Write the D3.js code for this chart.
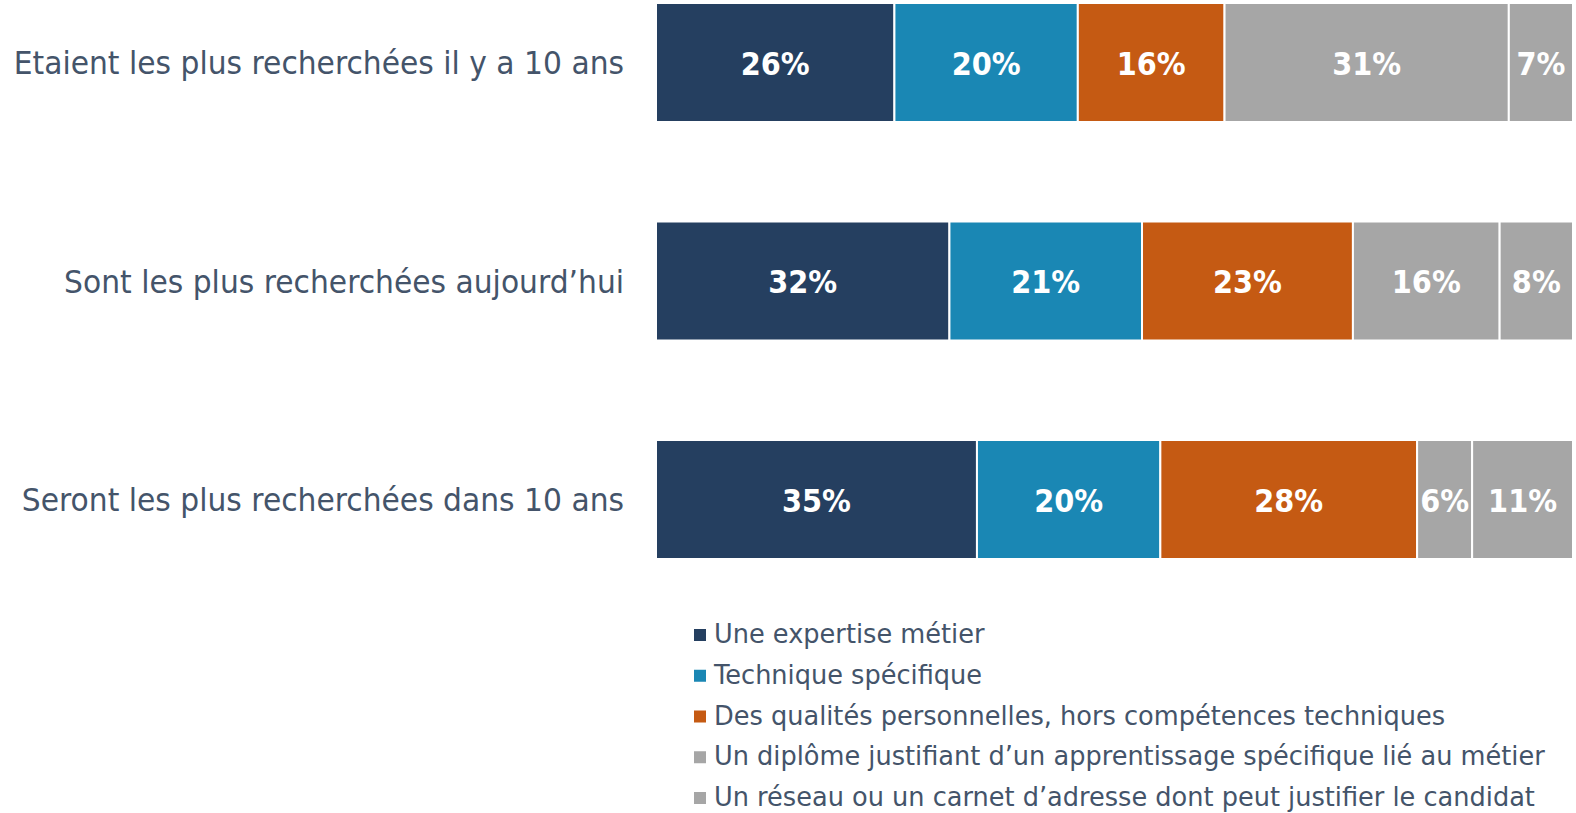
<!DOCTYPE html>
<html><head><meta charset="utf-8">
<script src="https://cdn.jsdelivr.net/npm/d3@7/dist/d3.min.js"></script>
<style>body{margin:0;background:#fff;overflow:hidden}svg{display:block}</style>
</head><body><svg id="c" width="1576" height="813"></svg>
<script>
const categories = ["Etaient les plus recherchées il y a 10 ans", "Sont les plus recherchées aujourd\u2019hui", "Seront les plus recherchées dans 10 ans"];
const seriesNames = ["Une expertise métier", "Technique spécifique", "Des qualités personnelles, hors compétences techniques", "Un diplôme justifiant d\u2019un apprentissage spécifique lié au métier", "Un réseau ou un carnet d\u2019adresse dont peut justifier le candidat"];
const expertise = [26, 32, 35];
const technique = [20, 21, 20];
const qualites = [16, 23, 28];
const diplome = [31, 16, 6];
const reseau = [7, 8, 11];
const colors = ["#253f60", "#1a87b4", "#c55a13", "#a6a6a6", "#a6a6a6"];

const allSeries = [expertise, technique, qualites, diplome, reseau];
const rows = categories.map((c, i) => {
  const o = {cat: c};
  seriesNames.forEach((s, j) => o[s] = allSeries[j][i]);
  return o;
});
const stack = d3.stack().keys(seriesNames)(rows);

const svg = d3.select("#c");
const x = d3.scaleLinear().domain([0, 100]).range([656, 1573]);
const y = d3.scaleBand().domain(categories).range([3, 559]).paddingInner(0.4554).paddingOuter(0);
const textColor = "#44546a";
const font = "'DejaVu Sans', sans-serif";

function squeeze(sel, f) {
  sel.each(function() {
    const w = this.getComputedTextLength();
    d3.select(this).attr("textLength", w * f).attr("lengthAdjust", "spacingAndGlyphs");
  });
}

const g = svg.append("g");
stack.forEach((layer, j) => {
  const lg = g.append("g");
  lg.selectAll("rect").data(layer).join("rect")
    .attr("x", d => x(d[0]))
    .attr("y", d => y(d.data.cat))
    .attr("width", d => x(d[1]) - x(d[0]))
    .attr("height", y.bandwidth())
    .attr("fill", colors[j])
    .attr("stroke", "#fff").attr("stroke-width", 2);
  const t = lg.selectAll("text").data(layer).join("text")
    .attr("x", d => (x(d[0]) + x(d[1])) / 2)
    .attr("y", d => y(d.data.cat) + y.bandwidth() / 2)
    .attr("dy", "0.39em")
    .attr("text-anchor", "middle")
    .attr("fill", "#fff")
    .attr("font-family", font)
    .attr("font-weight", "bold")
    .attr("font-size", 32)
    .text(d => (d[1] - d[0]) + "%");
  squeeze(t, 0.9);
});

// category axis labels
const yAxis = d3.axisLeft(y).tickSize(0).tickPadding(0);
const ax = svg.append("g").attr("transform", "translate(624,0)").call(yAxis);
ax.select(".domain").remove();
const at = ax.selectAll("text").attr("fill", textColor).attr("font-family", font).attr("font-size", 32).attr("dy", "0.36em");
squeeze(at, 0.93);

// legend
const leg = svg.append("g");
const ly = d3.scalePoint().domain(seriesNames).range([635, 798]);
seriesNames.forEach((s, j) => {
  leg.append("rect").attr("x", 694).attr("y", ly(s) - 6).attr("width", 12).attr("height", 12).attr("fill", colors[j]);
  const t = leg.append("text").attr("x", 714).attr("y", ly(s) + 8)
    .attr("fill", textColor).attr("font-family", font).attr("font-size", 26).text(s);
  squeeze(t, 0.985);
});
</script></body></html>
